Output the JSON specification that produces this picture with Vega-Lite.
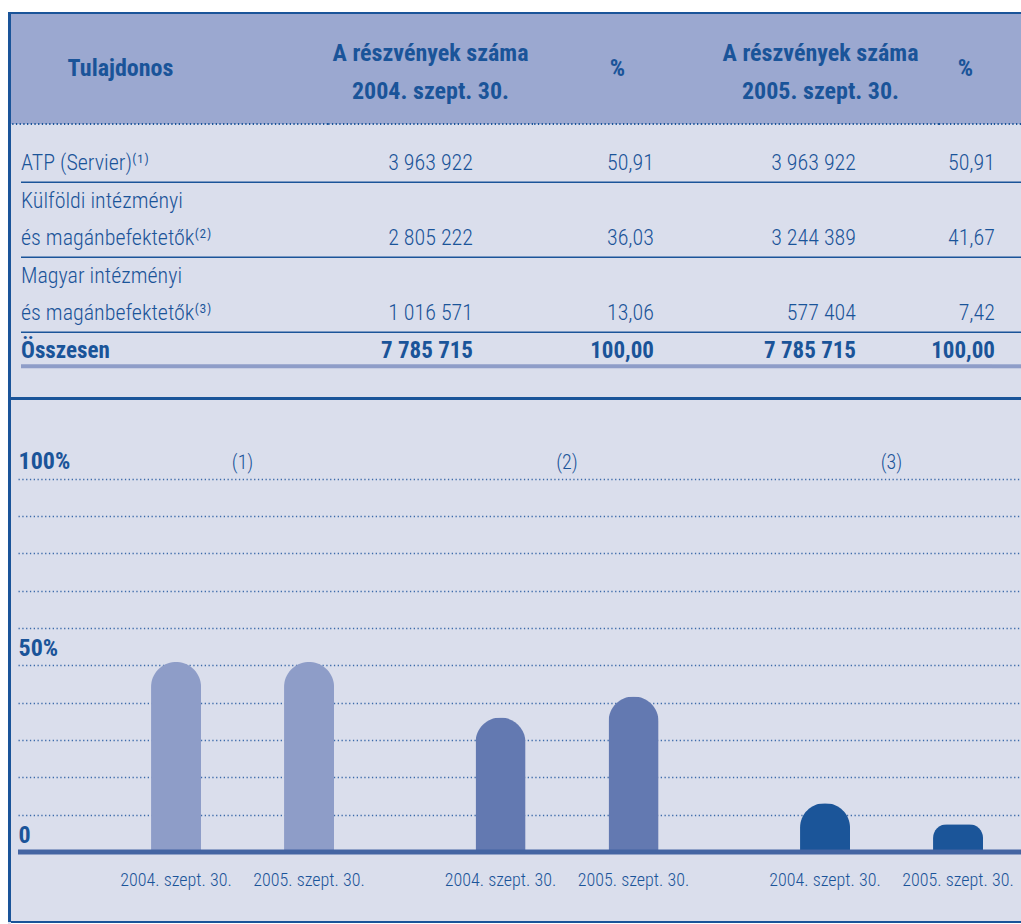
{
  "$schema": "https://vega.github.io/schema/vega-lite/v6.json",
  "padding": 0,
  "background": "#DADEEC",
  "spacing": 0,
  "config": {
    "view": {"stroke": null},
    "concat": {"spacing": 0},
    "locale": {"number": {"decimal": ",", "thousands": " ", "grouping": [3], "currency": ["", ""]}},
    "text": {"font": "Roboto Condensed, DejaVu Sans Condensed, sans-serif", "color": "#1A5499"}
  },
  "datasets": {
    "headers": [
      {"col": "owner", "title": "Tulajdonos"},
      {"col": "n2004", "title": "A részvények száma\n2004. szept. 30."},
      {"col": "p2004", "title": "%"},
      {"col": "n2005", "title": "A részvények száma\n2005. szept. 30."},
      {"col": "p2005", "title": "%"}
    ],
    "table": [
      {"first": "", "label": "ATP (Servier)⁽¹⁾", "n2004": 3963922, "p2004": 50.91, "n2005": 3963922, "p2005": 50.91},
      {"first": "Külföldi intézményi", "label": "és magánbefektetők⁽²⁾", "n2004": 2805222, "p2004": 36.03, "n2005": 3244389, "p2005": 41.67},
      {"first": "Magyar intézményi", "label": "és magánbefektetők⁽³⁾", "n2004": 1016571, "p2004": 13.06, "n2005": 577404, "p2005": 7.42},
      {"first": "", "label": "Összesen", "n2004": 7785715, "p2004": 100.0, "n2005": 7785715, "p2005": 100.0}
    ],
    "shares": [
      {"group": "(1)", "date": "2004. szept. 30.", "pct": 50.91},
      {"group": "(1)", "date": "2005. szept. 30.", "pct": 50.91},
      {"group": "(2)", "date": "2004. szept. 30.", "pct": 36.03},
      {"group": "(2)", "date": "2005. szept. 30.", "pct": 41.67},
      {"group": "(3)", "date": "2004. szept. 30.", "pct": 13.06},
      {"group": "(3)", "date": "2005. szept. 30.", "pct": 7.42}
    ]
  },
  "vconcat": [
    {"width": 1021, "height": 12, "view": {"fill": "#FFFFFF"}, "data": {"name": "headers"}, "transform": [{"filter": "false"}], "mark": {"type": "text", "text": ""}, "encoding": {}},
    {
      "hconcat": [
        {"width": 8, "height": 912, "view": {"fill": "#FFFFFF"}, "data": {"name": "headers"}, "transform": [{"filter": "false"}], "mark": {"type": "text", "text": ""}, "encoding": {}},
        {"width": 3, "height": 910, "view": {"fill": "#1A5499"}, "data": {"name": "headers"}, "transform": [{"filter": "false"}], "mark": {"type": "text", "text": ""}, "encoding": {}},
        {
          "vconcat": [
            {"width": 1010, "height": 2, "view": {"fill": "#1A5499"}, "data": {"name": "headers"}, "transform": [{"filter": "false"}], "mark": {"type": "text", "text": ""}, "encoding": {}},
            {
              "hconcat": [
                {"width": 1, "height": 110, "view": {"fill": "#9BA8D0"}, "data": {"name": "headers"}, "transform": [{"filter": "false"}], "mark": {"type": "text", "text": ""}, "encoding": {}},
                {"width": 316, "height": 110, "view": {"fill": "#9BA8D0"}, "data": {"name": "headers"}, "transform": [{"filter": "datum.col == 'owner'"}],
                 "layer": [
                   {"mark": {"type": "rule", "color": "#1A5499", "strokeWidth": 1.8, "strokeDash": [1.3, 2.4]}, "encoding": {"y": {"value": "height"}}},
                   {"mark": {"type": "text", "fontSize": 24, "fontWeight": "bold", "baseline": "middle", "align": "center", "dx": -49.5}, "encoding": {"text": {"field": "title", "type": "nominal"}}}
                 ]},
                {"width": 205, "height": 110, "view": {"fill": "#9BA8D0"}, "data": {"name": "headers"}, "transform": [{"filter": "datum.col == 'n2004'"}],
                 "layer": [
                   {"mark": {"type": "rule", "color": "#1A5499", "strokeWidth": 1.8, "strokeDash": [1.3, 2.4]}, "encoding": {"y": {"value": "height"}}},
                   {"mark": {"type": "text", "fontSize": 24, "fontWeight": "bold", "baseline": "middle", "align": "center", "lineBreak": "\n", "lineHeight": 38.3, "dy": -15.5}, "encoding": {"text": {"field": "title", "type": "nominal"}}}
                 ]},
                {"width": 169, "height": 110, "view": {"fill": "#9BA8D0"}, "data": {"name": "headers"}, "transform": [{"filter": "datum.col == 'p2004'"}],
                 "layer": [
                   {"mark": {"type": "rule", "color": "#1A5499", "strokeWidth": 1.8, "strokeDash": [1.3, 2.4]}, "encoding": {"y": {"value": "height"}}},
                   {"mark": {"type": "text", "fontSize": 24, "fontWeight": "bold", "baseline": "middle", "align": "center"}, "encoding": {"text": {"field": "title", "type": "nominal"}}}
                 ]},
                {"width": 237, "height": 110, "view": {"fill": "#9BA8D0"}, "data": {"name": "headers"}, "transform": [{"filter": "datum.col == 'n2005'"}],
                 "layer": [
                   {"mark": {"type": "rule", "color": "#1A5499", "strokeWidth": 1.8, "strokeDash": [1.3, 2.4]}, "encoding": {"y": {"value": "height"}}},
                   {"mark": {"type": "text", "fontSize": 24, "fontWeight": "bold", "baseline": "middle", "align": "center", "lineBreak": "\n", "lineHeight": 38.3, "dy": -15.5}, "encoding": {"text": {"field": "title", "type": "nominal"}}}
                 ]},
                {"width": 53, "height": 110, "view": {"fill": "#9BA8D0"}, "data": {"name": "headers"}, "transform": [{"filter": "datum.col == 'p2005'"}],
                 "layer": [
                   {"mark": {"type": "rule", "color": "#1A5499", "strokeWidth": 1.8, "strokeDash": [1.3, 2.4]}, "encoding": {"y": {"value": "height"}}},
                   {"mark": {"type": "text", "fontSize": 24, "fontWeight": "bold", "baseline": "middle", "align": "center"}, "encoding": {"text": {"field": "title", "type": "nominal"}}}
                 ]},
                {"width": 29, "height": 110, "view": {"fill": "#9BA8D0"}, "data": {"name": "headers"}, "transform": [{"filter": "datum.col == 'p2005'"}],
                 "mark": {"type": "rule", "color": "#1A5499", "strokeWidth": 1.8, "strokeDash": [1.3, 2.4]}, "encoding": {"y": {"value": "height"}}}
              ],
              "spacing": 0, "bounds": "flush"
            },
            {
              "hconcat": [
                {"width": 10, "height": 272, "data": {"name": "table"}, "transform": [{"filter": "false"}], "mark": {"type": "text", "text": ""}, "encoding": {}},
                {"width": 307, "height": 272, "data": {"name": "table"},
                 "layer": [
                   {"transform": [{"filter": "datum.label != 'Összesen'"}], "mark": {"type": "rule", "color": "#1A5499", "strokeWidth": 1.5},
                    "encoding": {"y": {"field": "label", "type": "nominal", "bandPosition": 1, "axis": null, "scale": {"domain": ["ATP (Servier)⁽¹⁾", "Külföldi intézményi", "és magánbefektetők⁽²⁾", "Magyar intézményi", "és magánbefektetők⁽³⁾", "Összesen"], "paddingInner": 0, "paddingOuter": 0.6267, "align": 0.42}}}},
                   {"transform": [{"filter": "datum.label == 'Összesen'"}], "mark": {"type": "rule", "color": "#8E9DC8", "strokeWidth": 4},
                    "encoding": {"y": {"field": "label", "type": "nominal", "bandPosition": 0.908, "axis": null, "scale": {"domain": ["ATP (Servier)⁽¹⁾", "Külföldi intézményi", "és magánbefektetők⁽²⁾", "Magyar intézményi", "és magánbefektetők⁽³⁾", "Összesen"], "paddingInner": 0, "paddingOuter": 0.6267, "align": 0.42}}}},
                   {"transform": [{"filter": "datum.first != ''"}], "mark": {"type": "text", "align": "left", "baseline": "middle", "fontSize": 22, "fontWeight": 300},
                    "encoding": {"x": {"datum": 0, "type": "quantitative", "axis": null, "scale": {"domain": [0, 1]}},
                                 "y": {"field": "first", "type": "nominal", "axis": null, "scale": {"domain": ["ATP (Servier)⁽¹⁾", "Külföldi intézményi", "és magánbefektetők⁽²⁾", "Magyar intézményi", "és magánbefektetők⁽³⁾", "Összesen"], "paddingInner": 0, "paddingOuter": 0.6267, "align": 0.42}},
                                 "text": {"field": "first", "type": "nominal"}}},
                   {"transform": [{"filter": "datum.label != 'Összesen'"}], "mark": {"type": "text", "align": "left", "baseline": "middle", "fontSize": 22, "fontWeight": 300},
                    "encoding": {"x": {"datum": 0, "type": "quantitative", "axis": null, "scale": {"domain": [0, 1]}},
                                 "y": {"field": "label", "type": "nominal", "axis": null, "scale": {"domain": ["ATP (Servier)⁽¹⁾", "Külföldi intézményi", "és magánbefektetők⁽²⁾", "Magyar intézményi", "és magánbefektetők⁽³⁾", "Összesen"], "paddingInner": 0, "paddingOuter": 0.6267, "align": 0.42}},
                                 "text": {"field": "label", "type": "nominal"}}},
                   {"transform": [{"filter": "datum.label == 'Összesen'"}], "mark": {"type": "text", "align": "left", "baseline": "middle", "fontSize": 23, "fontWeight": "bold"},
                    "encoding": {"x": {"datum": 0, "type": "quantitative", "axis": null, "scale": {"domain": [0, 1]}},
                                 "y": {"field": "label", "type": "nominal", "axis": null, "scale": {"domain": ["ATP (Servier)⁽¹⁾", "Külföldi intézményi", "és magánbefektetők⁽²⁾", "Magyar intézményi", "és magánbefektetők⁽³⁾", "Összesen"], "paddingInner": 0, "paddingOuter": 0.6267, "align": 0.42}},
                                 "text": {"field": "label", "type": "nominal"}}}
                 ]},
                {"width": 205, "height": 272, "data": {"name": "table"},
                 "layer": [
                   {"transform": [{"filter": "datum.label != 'Összesen'"}], "mark": {"type": "rule", "color": "#1A5499", "strokeWidth": 1.5},
                    "encoding": {"y": {"field": "label", "type": "nominal", "bandPosition": 1, "axis": null, "scale": {"domain": ["ATP (Servier)⁽¹⁾", "Külföldi intézményi", "és magánbefektetők⁽²⁾", "Magyar intézményi", "és magánbefektetők⁽³⁾", "Összesen"], "paddingInner": 0, "paddingOuter": 0.6267, "align": 0.42}}}},
                   {"transform": [{"filter": "datum.label == 'Összesen'"}], "mark": {"type": "rule", "color": "#8E9DC8", "strokeWidth": 4},
                    "encoding": {"y": {"field": "label", "type": "nominal", "bandPosition": 0.908, "axis": null, "scale": {"domain": ["ATP (Servier)⁽¹⁾", "Külföldi intézményi", "és magánbefektetők⁽²⁾", "Magyar intézményi", "és magánbefektetők⁽³⁾", "Összesen"], "paddingInner": 0, "paddingOuter": 0.6267, "align": 0.42}}}},
                   {"transform": [{"filter": "datum.label != 'Összesen'"}], "mark": {"type": "text", "align": "right", "baseline": "middle", "fontSize": 22, "fontWeight": 300, "dx": 42.5},
                    "encoding": {"y": {"field": "label", "type": "nominal", "axis": null, "scale": {"domain": ["ATP (Servier)⁽¹⁾", "Külföldi intézményi", "és magánbefektetők⁽²⁾", "Magyar intézményi", "és magánbefektetők⁽³⁾", "Összesen"], "paddingInner": 0, "paddingOuter": 0.6267, "align": 0.42}},
                                 "text": {"field": "n2004", "type": "quantitative", "format": ",d"}}},
                   {"transform": [{"filter": "datum.label == 'Összesen'"}], "mark": {"type": "text", "align": "right", "baseline": "middle", "fontSize": 23, "fontWeight": "bold", "dx": 42.5},
                    "encoding": {"y": {"field": "label", "type": "nominal", "axis": null, "scale": {"domain": ["ATP (Servier)⁽¹⁾", "Külföldi intézményi", "és magánbefektetők⁽²⁾", "Magyar intézményi", "és magánbefektetők⁽³⁾", "Összesen"], "paddingInner": 0, "paddingOuter": 0.6267, "align": 0.42}},
                                 "text": {"field": "n2004", "type": "quantitative", "format": ",d"}}}
                 ]},
                {"width": 169, "height": 272, "data": {"name": "table"},
                 "layer": [
                   {"transform": [{"filter": "datum.label != 'Összesen'"}], "mark": {"type": "rule", "color": "#1A5499", "strokeWidth": 1.5},
                    "encoding": {"y": {"field": "label", "type": "nominal", "bandPosition": 1, "axis": null, "scale": {"domain": ["ATP (Servier)⁽¹⁾", "Külföldi intézményi", "és magánbefektetők⁽²⁾", "Magyar intézményi", "és magánbefektetők⁽³⁾", "Összesen"], "paddingInner": 0, "paddingOuter": 0.6267, "align": 0.42}}}},
                   {"transform": [{"filter": "datum.label == 'Összesen'"}], "mark": {"type": "rule", "color": "#8E9DC8", "strokeWidth": 4},
                    "encoding": {"y": {"field": "label", "type": "nominal", "bandPosition": 0.908, "axis": null, "scale": {"domain": ["ATP (Servier)⁽¹⁾", "Külföldi intézményi", "és magánbefektetők⁽²⁾", "Magyar intézményi", "és magánbefektetők⁽³⁾", "Összesen"], "paddingInner": 0, "paddingOuter": 0.6267, "align": 0.42}}}},
                   {"transform": [{"filter": "datum.label != 'Összesen'"}], "mark": {"type": "text", "align": "right", "baseline": "middle", "fontSize": 22, "fontWeight": 300, "dx": 36.5},
                    "encoding": {"y": {"field": "label", "type": "nominal", "axis": null, "scale": {"domain": ["ATP (Servier)⁽¹⁾", "Külföldi intézményi", "és magánbefektetők⁽²⁾", "Magyar intézményi", "és magánbefektetők⁽³⁾", "Összesen"], "paddingInner": 0, "paddingOuter": 0.6267, "align": 0.42}},
                                 "text": {"field": "p2004", "type": "quantitative", "format": ".2f"}}},
                   {"transform": [{"filter": "datum.label == 'Összesen'"}], "mark": {"type": "text", "align": "right", "baseline": "middle", "fontSize": 23, "fontWeight": "bold", "dx": 36.5},
                    "encoding": {"y": {"field": "label", "type": "nominal", "axis": null, "scale": {"domain": ["ATP (Servier)⁽¹⁾", "Külföldi intézményi", "és magánbefektetők⁽²⁾", "Magyar intézményi", "és magánbefektetők⁽³⁾", "Összesen"], "paddingInner": 0, "paddingOuter": 0.6267, "align": 0.42}},
                                 "text": {"field": "p2004", "type": "quantitative", "format": ".2f"}}}
                 ]},
                {"width": 237, "height": 272, "data": {"name": "table"},
                 "layer": [
                   {"transform": [{"filter": "datum.label != 'Összesen'"}], "mark": {"type": "rule", "color": "#1A5499", "strokeWidth": 1.5},
                    "encoding": {"y": {"field": "label", "type": "nominal", "bandPosition": 1, "axis": null, "scale": {"domain": ["ATP (Servier)⁽¹⁾", "Külföldi intézményi", "és magánbefektetők⁽²⁾", "Magyar intézményi", "és magánbefektetők⁽³⁾", "Összesen"], "paddingInner": 0, "paddingOuter": 0.6267, "align": 0.42}}}},
                   {"transform": [{"filter": "datum.label == 'Összesen'"}], "mark": {"type": "rule", "color": "#8E9DC8", "strokeWidth": 4},
                    "encoding": {"y": {"field": "label", "type": "nominal", "bandPosition": 0.908, "axis": null, "scale": {"domain": ["ATP (Servier)⁽¹⁾", "Külföldi intézményi", "és magánbefektetők⁽²⁾", "Magyar intézményi", "és magánbefektetők⁽³⁾", "Összesen"], "paddingInner": 0, "paddingOuter": 0.6267, "align": 0.42}}}},
                   {"transform": [{"filter": "datum.label != 'Összesen'"}], "mark": {"type": "text", "align": "right", "baseline": "middle", "fontSize": 22, "fontWeight": 300, "dx": 35.5},
                    "encoding": {"y": {"field": "label", "type": "nominal", "axis": null, "scale": {"domain": ["ATP (Servier)⁽¹⁾", "Külföldi intézményi", "és magánbefektetők⁽²⁾", "Magyar intézményi", "és magánbefektetők⁽³⁾", "Összesen"], "paddingInner": 0, "paddingOuter": 0.6267, "align": 0.42}},
                                 "text": {"field": "n2005", "type": "quantitative", "format": ",d"}}},
                   {"transform": [{"filter": "datum.label == 'Összesen'"}], "mark": {"type": "text", "align": "right", "baseline": "middle", "fontSize": 23, "fontWeight": "bold", "dx": 35.5},
                    "encoding": {"y": {"field": "label", "type": "nominal", "axis": null, "scale": {"domain": ["ATP (Servier)⁽¹⁾", "Külföldi intézményi", "és magánbefektetők⁽²⁾", "Magyar intézményi", "és magánbefektetők⁽³⁾", "Összesen"], "paddingInner": 0, "paddingOuter": 0.6267, "align": 0.42}},
                                 "text": {"field": "n2005", "type": "quantitative", "format": ",d"}}}
                 ]},
                {"width": 53, "height": 272, "data": {"name": "table"},
                 "layer": [
                   {"transform": [{"filter": "datum.label != 'Összesen'"}], "mark": {"type": "rule", "color": "#1A5499", "strokeWidth": 1.5},
                    "encoding": {"y": {"field": "label", "type": "nominal", "bandPosition": 1, "axis": null, "scale": {"domain": ["ATP (Servier)⁽¹⁾", "Külföldi intézményi", "és magánbefektetők⁽²⁾", "Magyar intézményi", "és magánbefektetők⁽³⁾", "Összesen"], "paddingInner": 0, "paddingOuter": 0.6267, "align": 0.42}}}},
                   {"transform": [{"filter": "datum.label == 'Összesen'"}], "mark": {"type": "rule", "color": "#8E9DC8", "strokeWidth": 4},
                    "encoding": {"y": {"field": "label", "type": "nominal", "bandPosition": 0.908, "axis": null, "scale": {"domain": ["ATP (Servier)⁽¹⁾", "Külföldi intézményi", "és magánbefektetők⁽²⁾", "Magyar intézményi", "és magánbefektetők⁽³⁾", "Összesen"], "paddingInner": 0, "paddingOuter": 0.6267, "align": 0.42}}}},
                   {"transform": [{"filter": "datum.label != 'Összesen'"}], "mark": {"type": "text", "align": "right", "baseline": "middle", "fontSize": 22, "fontWeight": 300, "dx": 29.5},
                    "encoding": {"y": {"field": "label", "type": "nominal", "axis": null, "scale": {"domain": ["ATP (Servier)⁽¹⁾", "Külföldi intézményi", "és magánbefektetők⁽²⁾", "Magyar intézményi", "és magánbefektetők⁽³⁾", "Összesen"], "paddingInner": 0, "paddingOuter": 0.6267, "align": 0.42}},
                                 "text": {"field": "p2005", "type": "quantitative", "format": ".2f"}}},
                   {"transform": [{"filter": "datum.label == 'Összesen'"}], "mark": {"type": "text", "align": "right", "baseline": "middle", "fontSize": 23, "fontWeight": "bold", "dx": 29.5},
                    "encoding": {"y": {"field": "label", "type": "nominal", "axis": null, "scale": {"domain": ["ATP (Servier)⁽¹⁾", "Külföldi intézményi", "és magánbefektetők⁽²⁾", "Magyar intézményi", "és magánbefektetők⁽³⁾", "Összesen"], "paddingInner": 0, "paddingOuter": 0.6267, "align": 0.42}},
                                 "text": {"field": "p2005", "type": "quantitative", "format": ".2f"}}}
                 ]},
                {"width": 29, "height": 272, "data": {"name": "table"},
                 "layer": [
                   {"transform": [{"filter": "datum.label != 'Összesen'"}], "mark": {"type": "rule", "color": "#1A5499", "strokeWidth": 1.5},
                    "encoding": {"y": {"field": "label", "type": "nominal", "bandPosition": 1, "axis": null, "scale": {"domain": ["ATP (Servier)⁽¹⁾", "Külföldi intézményi", "és magánbefektetők⁽²⁾", "Magyar intézményi", "és magánbefektetők⁽³⁾", "Összesen"], "paddingInner": 0, "paddingOuter": 0.6267, "align": 0.42}}}},
                   {"transform": [{"filter": "datum.label == 'Összesen'"}], "mark": {"type": "rule", "color": "#8E9DC8", "strokeWidth": 4},
                    "encoding": {"y": {"field": "label", "type": "nominal", "bandPosition": 0.908, "axis": null, "scale": {"domain": ["ATP (Servier)⁽¹⁾", "Külföldi intézményi", "és magánbefektetők⁽²⁾", "Magyar intézményi", "és magánbefektetők⁽³⁾", "Összesen"], "paddingInner": 0, "paddingOuter": 0.6267, "align": 0.42}}}}
                 ]}
              ],
              "spacing": 0, "bounds": "flush"
            },
            {"width": 1010, "height": 3, "view": {"fill": "#1A5499"}, "data": {"name": "headers"}, "transform": [{"filter": "false"}], "mark": {"type": "text", "text": ""}, "encoding": {}},
            {
              "hconcat": [
                {"width": 7, "height": 521, "data": {"name": "headers"}, "transform": [{"filter": "false"}], "mark": {"type": "text", "text": ""}, "encoding": {}},
                {"width": 1003, "height": 521, "data": {"name": "shares"},
                 "layer": [
                   {"mark": {"type": "bar", "cornerRadiusEnd": 25},
                    "encoding": {
                      "x": {"field": "group", "type": "nominal", "axis": null, "scale": {"domain": ["(1)", "(2)", "(3)"], "paddingInner": 0.436, "paddingOuter": 0.2635, "align": 0.778}},
                      "xOffset": {"field": "date", "type": "nominal", "scale": {"domain": ["2004. szept. 30.", "2005. szept. 30."], "paddingInner": 0.624, "paddingOuter": 0}},
                      "y": {"field": "pct", "type": "quantitative", "scale": {"domain": [-18.48, 121.08], "nice": false, "zero": false},
                            "axis": {"values": [0, 10, 20, 30, 40, 50, 60, 70, 80, 90, 100], "title": null, "grid": true, "gridColor": "#3D6BAA", "gridDash": [1.3, 2.5], "gridWidth": 1.3, "gridOpacity": 1,
                                     "domain": false, "ticks": false, "tickSize": 0, "labelPadding": 0, "labelAlign": "left", "labelBaseline": "alphabetic", "labelOffset": -10,
                                     "labelFont": "Roboto Condensed, DejaVu Sans Condensed, sans-serif", "labelFontSize": 24, "labelFontWeight": "bold", "labelColor": "#1A5499",
                                     "labelOverlap": false, "labelFlush": false,
                                     "labelExpr": "datum.value == 100 ? '100%' : datum.value == 50 ? '50%' : datum.value == 0 ? '0' : ''"}},
                      "color": {"field": "group", "type": "nominal", "legend": null, "scale": {"domain": ["(1)", "(2)", "(3)"], "range": ["#8E9DC8", "#6379B1", "#1B5599"]}}
                    }},
                   {"transform": [{"filter": "datum.group == '(1)' && datum.date == '2004. szept. 30.'"}],
                    "mark": {"type": "rule", "color": "#4465A3", "strokeWidth": 5},
                    "encoding": {"y": {"datum": 0, "type": "quantitative"}}},
                   {"mark": {"type": "text", "baseline": "alphabetic", "align": "center", "fontSize": 18, "fontWeight": 300, "dy": 34},
                    "encoding": {
                      "x": {"field": "group", "type": "nominal", "axis": null},
                      "xOffset": {"field": "date", "type": "nominal"},
                      "y": {"datum": 0, "type": "quantitative"},
                      "text": {"field": "date", "type": "nominal"}
                    }},
                   {"transform": [{"filter": "datum.date == '2004. szept. 30.'"}],
                    "mark": {"type": "text", "baseline": "alphabetic", "align": "center", "fontSize": 20, "fontWeight": 300, "dy": -10},
                    "encoding": {
                      "x": {"field": "group", "type": "nominal", "axis": null},
                      "y": {"datum": 100, "type": "quantitative"},
                      "text": {"field": "group", "type": "nominal"}
                    }}
                 ]}
              ],
              "spacing": 0, "bounds": "flush"
            },
            {"width": 1010, "height": 2, "view": {"fill": "#1A5499"}, "data": {"name": "headers"}, "transform": [{"filter": "false"}], "mark": {"type": "text", "text": ""}, "encoding": {}},
            {"width": 1010, "height": 2, "view": {"fill": "#FFFFFF"}, "data": {"name": "headers"}, "transform": [{"filter": "false"}], "mark": {"type": "text", "text": ""}, "encoding": {}}
          ],
          "spacing": 0
        }
      ],
      "spacing": 0
    }
  ]
}
